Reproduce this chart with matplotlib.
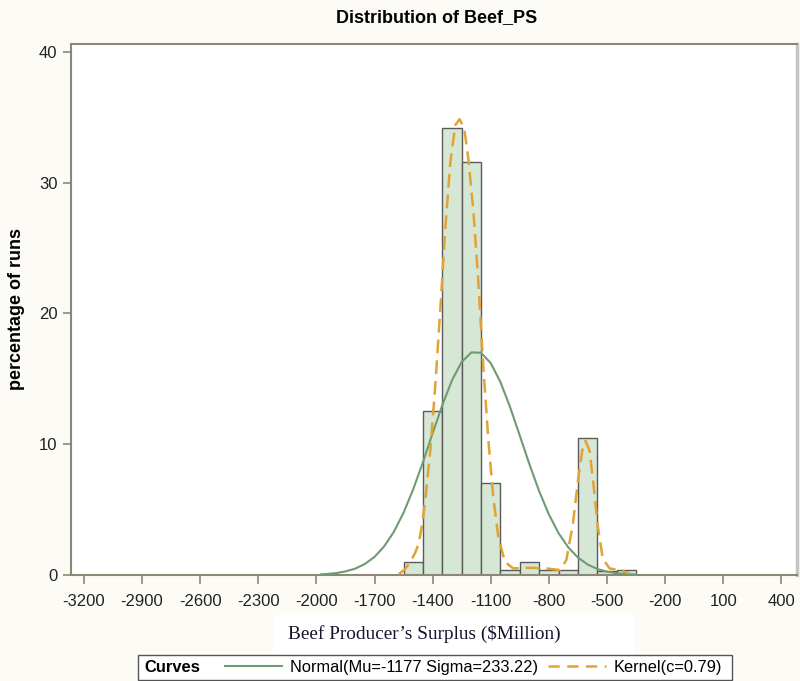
import matplotlib.pyplot as plt
from matplotlib.lines import Line2D
from matplotlib.patches import Rectangle

# histogram bins (midpoints, $Million) and percentages
bin_mid = [-1500, -1400, -1300, -1200, -1100, -1000, -900, -800, -700, -600, -500, -400]
pct = [1.0, 12.5, 34.2, 31.6, 7.0, 0.4, 1.0, 0.4, 0.4, 10.45, 0.3, 0.4]

# fitted normal curve (Mu=-1177, Sigma=233.22)
norm_x = [-1975, -1950, -1900, -1850, -1800, -1750, -1700, -1650, -1600, -1550, -1500,
          -1450, -1400, -1350, -1300, -1250, -1200, -1150, -1100, -1050, -1000,
          -950, -900, -850, -800, -750, -700, -650, -600, -550, -500, -450, -400, -350]
norm_y = [0.05, 0.07, 0.14, 0.27, 0.48, 0.84, 1.38, 2.19, 3.30, 4.76, 6.56,
          8.62, 10.83, 12.99, 14.89, 16.29, 17.02, 16.99, 16.20, 14.75, 12.83,
          10.65, 8.45, 6.40, 4.63, 3.20, 2.11, 1.33, 0.80, 0.46, 0.25, 0.13, 0.07, 0.03]

# kernel density curve
kern_x = [-1574, -1545, -1515, -1490, -1472, -1455, -1438, -1412, -1386, -1360, -1335,
          -1309, -1283, -1261, -1237, -1215, -1189, -1164, -1138, -1112, -1087,
          -1061, -1027, -984, -898, -813, -744, -710, -676, -650, -628, -611,
          -590, -570, -547, -522, -487, -436, -385]
kern_y = [0.08, 0.4, 1.0, 1.7, 2.4, 3.8, 5.7, 9.5, 14.55, 20.4, 26.4,
          31.5, 34.4, 34.85, 34.15, 31.75, 27.7, 22.4, 15.8, 10.25, 5.95,
          2.9, 1.0, 0.5, 0.55, 0.5, 0.38, 1.14, 3.9, 7.2, 9.5, 10.25,
          9.5, 6.96, 3.67, 1.26, 0.5, 0.38, 0.13]

xticks = list(range(-3200, 401, 300))
yticks = [0, 10, 20, 30, 40]

bg = '#fdfbf5'
bar_fill = '#d6e8d5'
bar_edge = '#5a5a5a'
norm_col = '#6f9a72'
kern_col = '#e2a234'
spine_col = '#8a8878'

plt.rcParams['font.family'] = ['Liberation Sans', 'DejaVu Sans']
plt.rcParams['axes.unicode_minus'] = False

fig = plt.figure(figsize=(8, 6.81), dpi=100, facecolor=bg)
ax = fig.add_axes([0.0891, 0.1557, 0.907, 0.7797])
ax.set_facecolor('white')

ax.bar(bin_mid, pct, width=100, color=bar_fill, edgecolor=bar_edge, linewidth=1.0, zorder=2)
ax.plot(norm_x, norm_y, color=norm_col, lw=1.5, zorder=3)
ax.plot(kern_x, kern_y, color=kern_col, lw=1.8, dashes=(5.5, 2.8), zorder=4)

ax.set_xlim(-3265, 480)
ax.set_ylim(0, 40.6)
ax.set_xticks(xticks)
ax.set_yticks(yticks)
ax.tick_params(axis='x', length=6.5, width=1.2, color=spine_col, pad=7, labelsize=12, labelcolor='#222222')
ax.tick_params(axis='y', length=6, width=1.2, color=spine_col, pad=4, labelsize=12, labelcolor='#222222')
for s in ax.spines.values():
    s.set_color(spine_col)
    s.set_linewidth(1.5)
ax.spines['right'].set_color('#c8c6c0')
ax.spines['right'].set_linewidth(2.5)

ax.set_ylabel('percentage of runs', fontsize=13, fontweight='bold')
ax.yaxis.set_label_coords(-0.064, 0.5)

fig.text(0.546, 0.974, 'Distribution of Beef_PS', ha='center', va='center',
         fontsize=13, fontweight='bold')

# x label in a white box (serif)
fig.patches.append(Rectangle((0.341, 0.0382), 0.4525, 0.0587, transform=fig.transFigure,
                             facecolor='white', edgecolor='none', zorder=1))
fig.text(0.530, 0.069, "Beef Producer\u2019s Surplus ($Million)", ha='center', va='center',
         fontsize=13.9, family=['Liberation Serif', 'DejaVu Serif'], color='#151530', zorder=2)

# legend box
fig.patches.append(Rectangle((0.1729, 0.0015), 0.742, 0.036, transform=fig.transFigure,
                             facecolor='white', edgecolor='#555555', linewidth=1.0, zorder=3))
fig.text(0.181, 0.0195, 'Curves', ha='left', va='center', fontsize=11.9, fontweight='bold', zorder=4)
handles = [Line2D([], [], color=norm_col, lw=1.5),
           Line2D([], [], color=kern_col, lw=1.8, dashes=(4.5, 3.0))]
labels = ['Normal(Mu=-1177 Sigma=233.22)', 'Kernel(c=0.79)']
leg = fig.legend(handles, labels, loc='center left', bbox_to_anchor=(0.281, 0.0195), ncol=2,
                 frameon=False, fontsize=11.8, handlelength=3.5, handletextpad=0.5,
                 columnspacing=0.6, borderpad=0, borderaxespad=0)
leg.set_zorder(5)

fig.savefig('out.png', dpi=100, facecolor=bg)
